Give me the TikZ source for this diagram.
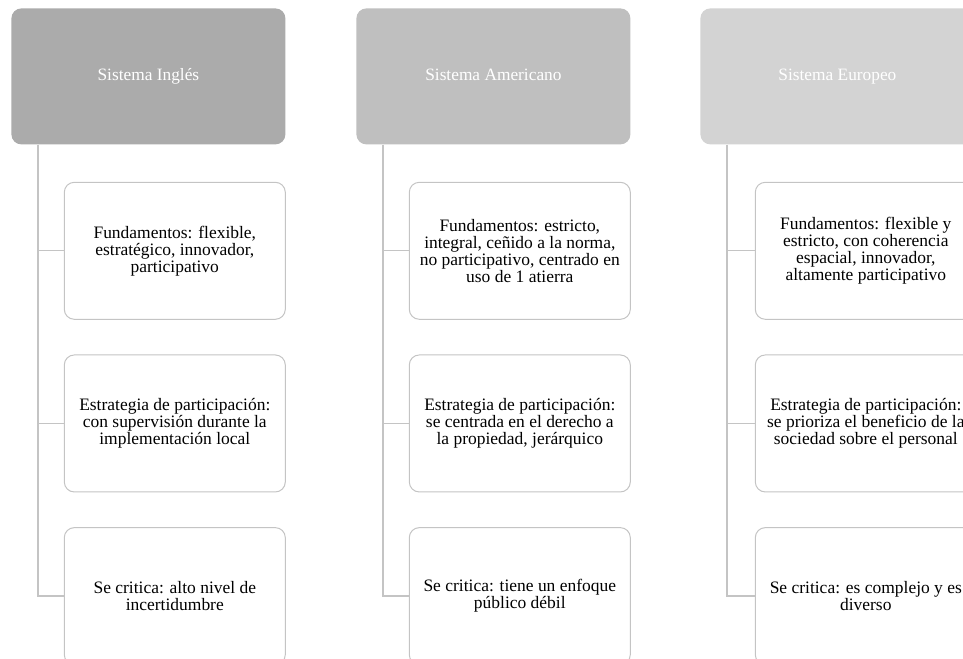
\documentclass[tikz,border=0pt]{standalone}
\usepackage{fontspec}
\setmainfont{Liberation Serif}
\usepackage{xcolor}
\usetikzlibrary{positioning}

\definecolor{grisA}{HTML}{ABABAB}
\definecolor{grisB}{HTML}{BFBFBF}
\definecolor{grisC}{HTML}{D3D3D3}
\definecolor{borde}{HTML}{C4C4C4}

\begin{document}
\begin{tikzpicture}[x=0.75pt,y=-0.75pt,node distance=26pt,semithick]
	\tikzstyle{sistema}=[rectangle, rounded corners=7.5pt, anchor=north west, minimum width=205.5pt, minimum height=102pt, text height=1.7ex, text depth=0.5ex, text=white, font=\fontsize{13}{12.75}\selectfont]
	\tikzstyle{rasgo}=[rectangle, rounded corners=7.5pt, draw=borde, fill=white, line width=0.75pt, minimum width=165.75pt, minimum height=102.75pt, align=center, text=black, font=\fontsize{13.1}{12.75}\selectfont]
	\tikzstyle{rama}=[draw=borde, line width=1pt]
	
	\useasboundingbox (0,0) rectangle (963,659);
	\clip (0,0) rectangle (963,659);
	
	\node[sistema, fill=grisA] (ingles)    at (11,8)  {Sistema Inglés};
	\node[sistema, fill=grisB] (americano) at (356,8) {Sistema Americano};
	\node[sistema, fill=grisC] (europeo)   at (700,8) {Sistema Europeo};
	
	\node[rasgo, below=27.75pt of ingles.south east, anchor=north east] (ingles1) {Fundamentos: flexible,\\ estratégico, innovador,\\ participativo};
	\node[rasgo, below=of ingles1] (ingles2) {Estrategia de participación:\\ con supervisión durante la\\ implementación local};
	\node[rasgo, below=of ingles2] (ingles3) {Se critica: alto nivel de\\ incertidumbre};
	
	\node[rasgo, below=27.75pt of americano.south east, anchor=north east] (americano1) {Fundamentos: estricto,\\ integral, ceñido a la norma,\\ no participativo, centrado en\\ uso de 1 atierra};
	\node[rasgo, below=of americano1] (americano2) {Estrategia de participación:\\ se centrada en el derecho a\\ la propiedad, jerárquico};
	\node[rasgo, below=of americano2] (americano3) {Se critica: tiene un enfoque\\ público débil};
	
	\node[rasgo, below=27.75pt of europeo.south east, anchor=north east, xshift=1.5pt] (europeo1) {Fundamentos: flexible y\\ estricto, con coherencia\\ espacial, innovador,\\ altamente participativo};
	\node[rasgo, below=of europeo1] (europeo2) {Estrategia de participación:\\ se prioriza el beneficio de la\\ sociedad sobre el personal};
	\node[rasgo, below=of europeo2] (europeo3) {Se critica: es complejo y es\\ diverso};
	
	\coordinate (tronco1) at ([xshift=20.25pt]ingles.south west);
	\coordinate (tronco2) at ([xshift=20.25pt]americano.south west);
	\coordinate (tronco3) at ([xshift=20.25pt]europeo.south west);
	
	\path[rama] (tronco1) |- (ingles1.west);
	\path[rama] (tronco1) |- (ingles2.west);
	\path[rama] (tronco1) |- (ingles3.west);
	\path[rama] (tronco2) |- (americano1.west);
	\path[rama] (tronco2) |- (americano2.west);
	\path[rama] (tronco2) |- (americano3.west);
	\path[rama] (tronco3) |- (europeo1.west);
	\path[rama] (tronco3) |- (europeo2.west);
	\path[rama] (tronco3) |- (europeo3.west);
	
\end{tikzpicture}
\end{document}
